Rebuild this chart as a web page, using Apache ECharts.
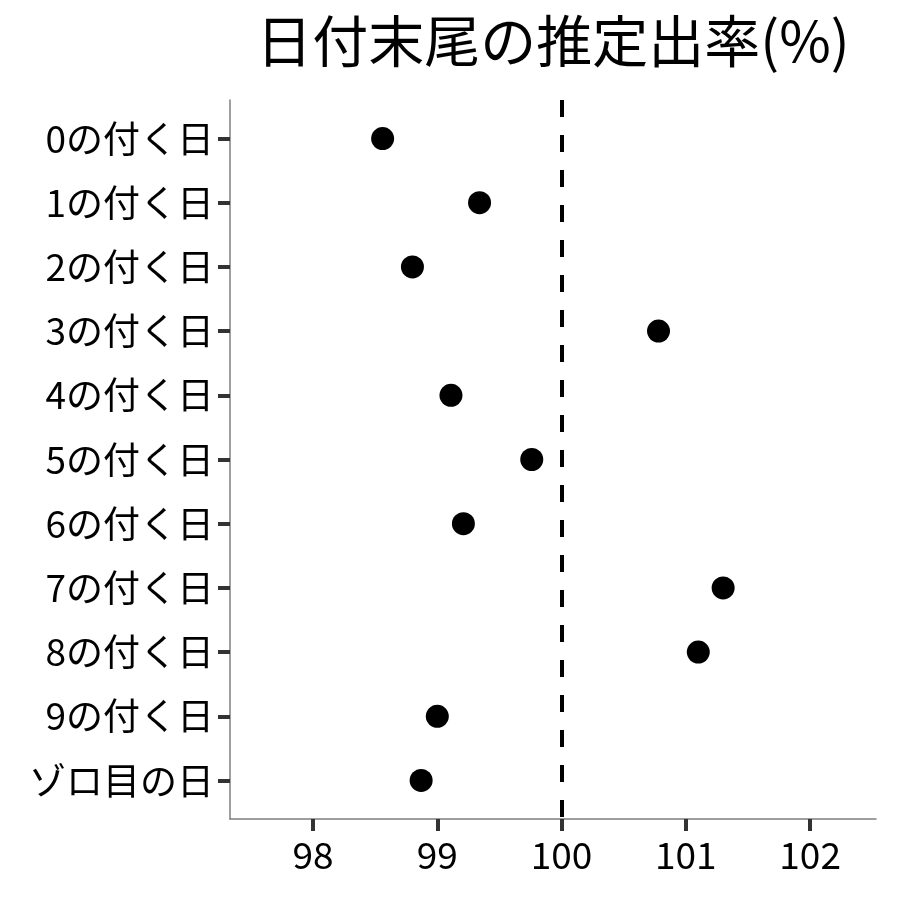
<!DOCTYPE html>
<html>
<head>
<meta charset="utf-8">
<script src="https://cdn.jsdelivr.net/npm/echarts@6/dist/echarts.min.js"></script>
<style>html,body{margin:0;padding:0;background:#fff;}#c{width:900px;height:900px;}</style>
</head>
<body>
<div id="c"></div>
<script>
const title = "日付末尾の推定出率(%)";
const categories = ["0の付く日","1の付く日","2の付く日","3の付く日","4の付く日","5の付く日","6の付く日","7の付く日","8の付く日","9の付く日","ゾロ目の日"];
const values = [98.56, 99.34, 98.80, 100.78, 99.11, 99.76, 99.21, 101.30, 101.10, 99.00, 98.87];
const xTicks = [98, 99, 100, 101, 102];
const refValue = 100;

const font = '"Noto Sans CJK JP", "Noto Sans", sans-serif';
const chart = echarts.init(document.getElementById('c'), null, {renderer: 'canvas'});
const yIdx = categories.map((_, i) => i);
chart.setOption({
  animation: false,
  backgroundColor: '#ffffff',
  title: {
    text: title,
    left: 548, top: 8, textAlign: 'center',
    textStyle: {fontFamily: font, fontSize: 56, fontWeight: 'normal', color: '#000'}
  },
  grid: {left: 230, right: 24, top: 100, bottom: 81, containLabel: false},
  xAxis: {
    type: 'value', min: 97.332, max: 102.53,
    splitLine: {show: false},
    axisLine: {show: true, onZero: false, lineStyle: {color: '#7f7f7f', width: 1.5}},
    axisTick: {show: true, customValues: xTicks, length: 12, lineStyle: {color: '#333', width: 4}},
    axisLabel: {customValues: xTicks, fontFamily: font, fontSize: 37, color: '#000', margin: 17,
      formatter: v => String(v)}
  },
  yAxis: {
    type: 'value', min: -0.6, max: 10.6, inverse: true,
    splitLine: {show: false},
    axisLine: {show: true, onZero: false, lineStyle: {color: '#7f7f7f', width: 1.5}},
    axisTick: {show: true, customValues: yIdx, length: 12, lineStyle: {color: '#333', width: 4}},
    axisLabel: {customValues: yIdx, fontFamily: font, fontSize: 37, color: '#000', margin: 16,
      formatter: v => categories[Math.round(v)]}
  },
  series: [{
    type: 'scatter',
    symbol: 'circle', symbolSize: 23,
    itemStyle: {color: '#000', opacity: 1},
    data: values.map((v, i) => [v, i]),
    markLine: {
      silent: true, symbol: 'none',
      label: {show: false},
      lineStyle: {color: '#000', width: 4, type: [17, 18]},
      data: [{xAxis: refValue}]
    }
  }]
});
</script>
</body>
</html>
